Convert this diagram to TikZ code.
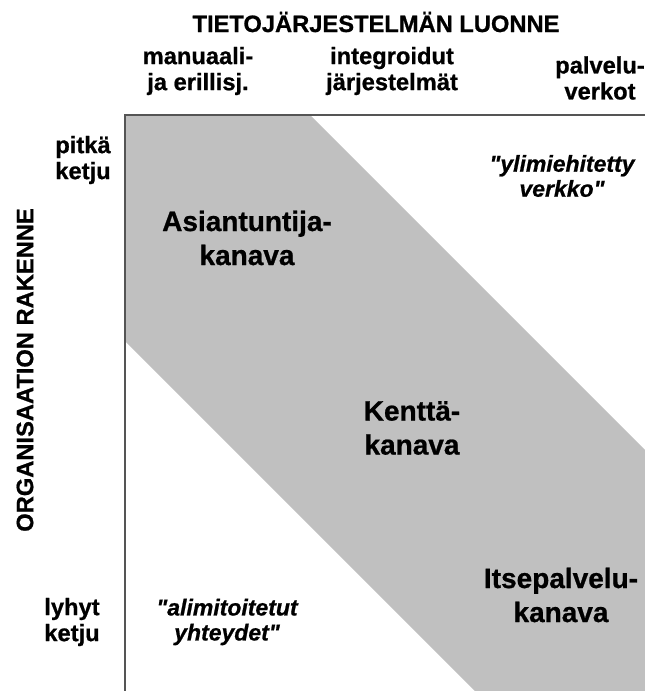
\documentclass[tikz,border=0pt]{standalone}
\usepackage{fontspec}
\setmainfont{Liberation Sans}[BoldFont={Liberation Sans Bold}, BoldItalicFont={Liberation Sans Bold Italic}, BoldFeatures={FakeBold=0.8}, BoldItalicFeatures={FakeBold=0.8}, Ligatures=NoCommon]
\definecolor{bandgray}{HTML}{C0C0C0}
\definecolor{framegray}{HTML}{555555}
\tikzset{
  axislbl/.style={font=\bfseries\fontsize{23.7}{26}\selectfont, align=center, inner sep=0pt},
  chanlbl/.style={font=\bfseries\fontsize{28}{34}\selectfont, align=center, inner sep=0pt},
  quotelbl/.style={font=\bfseries\itshape\fontsize{23}{25}\selectfont, align=center, inner sep=0pt}
}
\begin{document}
\begin{tikzpicture}[x=1pt,y=-1pt]

\useasboundingbox (0,0) rectangle (645,691);

% grey band
\fill[bandgray] (125,115) -- (310,115) -- (645,450) -- (645,691) -- (475,691) -- (125,341) -- cycle;

% frame
\coordinate (corner) at (125,115);
\coordinate (topend) at (645,115);
\coordinate (leftend) at (125,691);
\draw[framegray, line width=1.5pt] (topend) -- (corner) -- (leftend);

% axis titles
\node[axislbl] (xtitle) at (376,22) {TIETOJÄRJESTELMÄN LUONNE};
\node[axislbl, rotate=90] (ytitle) at (25,370) {ORGANISAATION RAKENNE};

% columns
\node[axislbl] (colA) at (198,71) {manuaali-\\ja erillisj.};
\node[axislbl] (colB) at (392,71) {integroidut\\järjestelmät};
\node[axislbl] (colC) at (600,78) {palvelu-\\verkot};

% rows
\node[axislbl] (rowA) at (83,160) {pitkä\\ketju};
\node[axislbl] (rowB) at (72,622) {lyhyt\\ketju};

% corners
\node[quotelbl] (overq) at (562,176) {\textquotedbl ylimiehitetty\\verkko\textquotedbl};
\node[quotelbl] (underq) at (227,622) {\textquotedbl alimitoitetut\\yhteydet\textquotedbl};

% channels
\node[chanlbl] (expert) at (247,238) {Asiantuntija-\\kanava};
\node[chanlbl] (field) at (412,428) {Kenttä-\\kanava};
\node[chanlbl] (self) at (561,595) {Itsepalvelu-\\kanava};

\end{tikzpicture}
\end{document}
